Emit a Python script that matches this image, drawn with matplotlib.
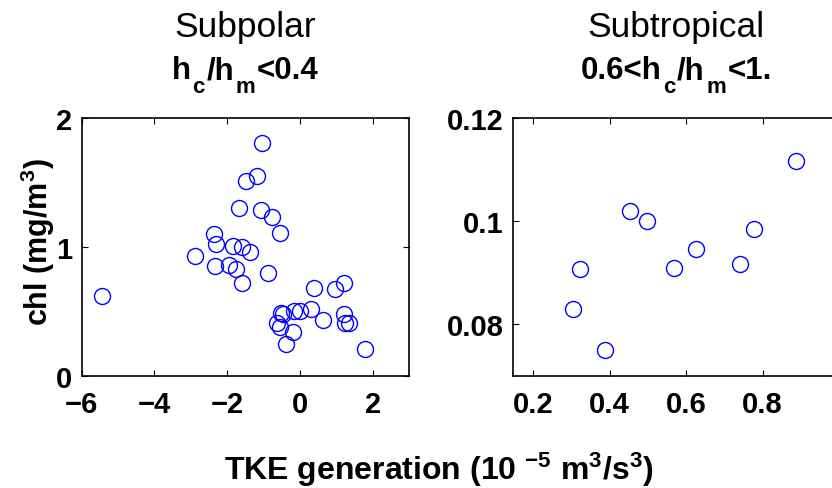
import matplotlib
matplotlib.use("Agg")
import matplotlib.pyplot as plt
from matplotlib.transforms import IdentityTransform

plt.rcParams['font.family'] = ['Liberation Sans', 'DejaVu Sans']
plt.rcParams['mathtext.fontset'] = 'custom'
plt.rcParams['mathtext.rm'] = 'Liberation Sans'
plt.rcParams['mathtext.bf'] = 'Liberation Sans:bold'
plt.rcParams['mathtext.it'] = 'Liberation Sans:italic'

# Subpolar (h_c/h_m < 0.4)
subpolar_tke = [-5.43, -1.04, -1.19, -1.48, -1.68, -1.06, -0.78, -0.56, -2.37, -2.30,
                -1.85, -1.59, -1.36, -2.89, -2.34, -1.96, -1.75, -0.88, -1.59, 0.40,
                0.96, 1.22, -0.53, -0.47, -0.17, 0.00, 0.31, 0.63, 1.20, 1.25,
                1.36, -0.62, -0.55, -0.19, -0.39, 1.78]
subpolar_chl = [0.62, 1.81, 1.55, 1.51, 1.30, 1.29, 1.23, 1.11, 1.10, 1.02,
                1.01, 1.00, 0.96, 0.93, 0.85, 0.86, 0.83, 0.80, 0.72, 0.68,
                0.67, 0.72, 0.49, 0.48, 0.50, 0.50, 0.52, 0.43, 0.48, 0.41,
                0.41, 0.41, 0.38, 0.34, 0.25, 0.21]

# Subtropical (0.6 < h_c/h_m < 1.)
subtrop_tke = [0.305, 0.322, 0.389, 0.454, 0.497, 0.567, 0.625, 0.742, 0.777, 0.886]
subtrop_chl = [0.0829, 0.0907, 0.0750, 0.1020, 0.1000, 0.0909, 0.0946, 0.0917, 0.0984, 0.1117]

left_xticks = [-6, -4, -2, 0, 2]
left_yticks = [0, 1, 2]
right_xticks = [0.2, 0.4, 0.6, 0.8]
right_yticks = [0.08, 0.1, 0.12]
right_yticklabels = ['0.08', '0.1', '0.12']

W, H = 832, 489
fig = plt.figure(figsize=(W / 100, H / 100), dpi=100)

ax1 = fig.add_axes([81.7 / W, 1 - 376.7 / H, 327.3 / W, 257.4 / H])
ax2 = fig.add_axes([513.3 / W, 1 - 376.7 / H, 325.8 / W, 257.4 / H])

mk = dict(linestyle='none', marker='o', markersize=11.5, markerfacecolor='none',
          markeredgecolor='#0000ff', markeredgewidth=1.0)
ax1.plot(subpolar_tke, subpolar_chl, **mk)
ax2.plot(subtrop_tke, subtrop_chl, **mk)

ax1.set_xlim(-6, 3)
ax1.set_ylim(0, 2)
ax1.set_xticks(left_xticks)
ax1.set_yticks(left_yticks)

ax2.set_xlim(0.148, 1.0)
ax2.set_ylim(0.07, 0.12)
ax2.set_xticks(right_xticks)
ax2.set_xticklabels([str(v) for v in right_xticks])
ax2.set_yticks(right_yticks)
ax2.set_yticklabels(right_yticklabels)

for ax in (ax1, ax2):
    ax.tick_params(direction='in', top=True, right=True, length=4, width=0.8,
                   labelsize=21, pad=7)
    ax.tick_params(axis='x', pad=10)
    for lab in ax.get_xticklabels() + ax.get_yticklabels():
        lab.set_fontweight('bold')
    for s in ax.spines.values():
        s.set_linewidth(1.2)

renderer = fig.canvas.get_renderer()

fig.text((81.7 + 409) / 2, H - 37, 'Subpolar', ha='center', va='baseline', fontsize=25.5,
         transform=IdentityTransform())
fig.text((513.3 + 839) / 2, H - 37, 'Subtropical', ha='center', va='baseline', fontsize=25.5,
         transform=IdentityTransform())


def rich_line(xc_px, base_top_px, pieces):
    """Draw pieces (text, fontsize, drop_px) side by side, centred at xc_px."""
    arts = []
    widths = []
    for s, size, drop in pieces:
        t = fig.text(0, 0, s, fontsize=size, fontweight='bold', ha='left', va='baseline',
                     transform=IdentityTransform())
        widths.append(t.get_window_extent(renderer).width)
        arts.append((t, drop))
    gap = 1.5
    total = sum(widths) + gap * (len(pieces) - 1)
    x = xc_px - total / 2
    for (t, drop), w in zip(arts, widths):
        t.set_position((x, H - base_top_px - drop))
        x += w + gap


main, sub, drop = 22.5, 16, 14
rich_line((81.7 + 409) / 2, 79.5,
          [('h', main, 0), ('c', sub, drop), ('/h', main, 0), ('m', sub, drop), ('<0.4', main, 0)])
rich_line((513.3 + 839) / 2, 79.5,
          [('0.6<h', main, 0), ('c', sub, drop), ('/h', main, 0), ('m', sub, drop), ('<1.', main, 0)])

fig.text(38 / W, 1 - 242 / H, r'chl (mg/m$^{\mathbf{3}}$)', rotation=90, ha='center', va='center',
         fontsize=22, fontweight='bold')
fig.text(439 / W, 1 - 480 / H, r'TKE generation (10 $^{\mathbf{-5}}$ m$^{\mathbf{3}}$/s$^{\mathbf{3}}$)',
         ha='center', va='baseline', fontsize=23, fontweight='bold')

fig.savefig('out.png', dpi=100)
